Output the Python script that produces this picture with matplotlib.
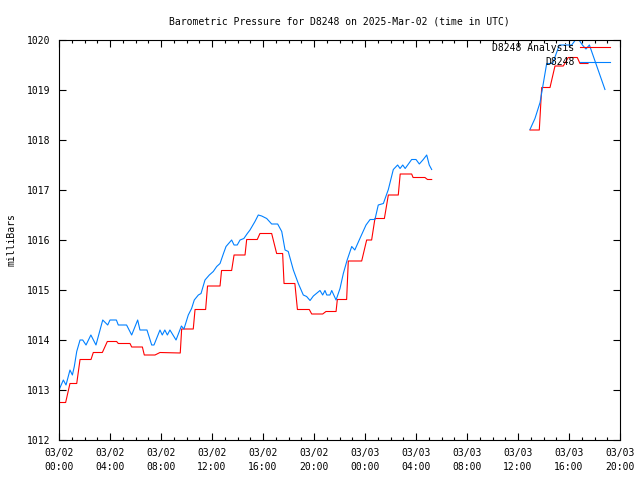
import numpy as np
import matplotlib
matplotlib.use("Agg")
import matplotlib.pyplot as plt
from matplotlib.ticker import MultipleLocator

NAN = np.nan

# hours since 2025-03-02 00:00 UTC
obs_hours = [
    0.0, 0.34, 0.55, 0.86, 1.05, 1.2, 1.39, 1.65, 1.86, 2.12, 2.5, 2.9,
    3.43, 3.82, 4.0, 4.5, 4.65, 5.3, 5.7, 6.17, 6.35, 6.9, 7.27, 7.45,
    7.92, 8.1, 8.3, 8.5, 8.7, 9.18, 9.6, 9.8, 10.14, 10.4, 10.61, 10.93,
    11.14, 11.45, 11.79, 12.1, 12.37, 12.63, 12.9, 13.1, 13.54, 13.73,
    13.98, 14.2, 14.5, 14.77, 14.98, 15.37, 15.63, 15.9, 16.29, 16.68,
    17.15, 17.47, 17.73, 17.98, 18.38, 18.77, 19.16, 19.42, 19.69, 19.95,
    20.47, 20.68, 20.86, 21.0, 21.25, 21.39, 21.73, 22.04, 22.3, 22.6,
    22.96, 23.2, 23.6, 24.08, 24.4, 24.78, 25.04, 25.44, 25.83, 26.22,
    26.56, 26.75, 26.96, 27.15, 27.66, 28.0, 28.26, 28.57, 28.84, 29.04,
    29.23, 33.0,
    36.94, 37.33, 37.73, 38.25, 38.72, 39.24, 40.21, 40.65, 41.05, 41.33,
    41.6, 42.82,
]
obs_pres = [
    1013.0, 1013.2, 1013.1, 1013.4, 1013.3, 1013.47, 1013.77, 1014.0,
    1014.0, 1013.9, 1014.1, 1013.9, 1014.4, 1014.3, 1014.4, 1014.4,
    1014.3, 1014.3, 1014.1, 1014.4, 1014.2, 1014.2, 1013.9, 1013.9,
    1014.2, 1014.1, 1014.2, 1014.1, 1014.2, 1014.0, 1014.28, 1014.22,
    1014.5, 1014.63, 1014.8, 1014.9, 1014.93, 1015.2, 1015.3, 1015.37,
    1015.47, 1015.53, 1015.73, 1015.87, 1016.0, 1015.9, 1015.9, 1016.0,
    1016.03, 1016.13, 1016.2, 1016.37, 1016.5, 1016.48, 1016.43, 1016.32,
    1016.32, 1016.17, 1015.8, 1015.77, 1015.4, 1015.13, 1014.9, 1014.87,
    1014.79, 1014.88, 1014.99, 1014.9, 1014.99, 1014.9, 1014.9, 1014.99,
    1014.8, 1015.03, 1015.33, 1015.6, 1015.87, 1015.8, 1016.03, 1016.3,
    1016.41, 1016.41, 1016.7, 1016.73, 1017.01, 1017.41, 1017.5, 1017.43,
    1017.5, 1017.43, 1017.61, 1017.61, 1017.52, 1017.61, 1017.7, 1017.5,
    1017.41, NAN,
    1018.21, 1018.43, 1018.75, 1019.53, 1019.53, 1019.9, 1019.9, 1020.05,
    1019.9, 1019.82, 1019.9, 1019.01,
]

ana_hours = [
    0.0, 0.52, 0.86, 1.39, 1.65, 2.51, 2.69, 3.4, 3.79, 4.52, 4.65, 5.57,
    5.7, 6.54, 6.69, 7.53, 7.92, 9.51, 9.62, 10.53, 10.67, 11.5, 11.65,
    12.63, 12.75, 13.54, 13.73, 14.59, 14.72, 15.55, 15.76, 16.68, 17.07,
    17.54, 17.65, 18.5, 18.7, 19.63, 19.82, 20.68, 20.94, 21.73, 21.83,
    22.56, 22.69, 23.74, 24.13, 24.52, 24.78, 25.52, 25.83, 26.61, 26.76,
    27.66, 27.77, 28.7, 28.9, 29.23, 33.0,
    36.94, 37.67, 37.86, 38.51, 38.9, 39.55, 39.94, 40.65, 40.86, 41.49,
]
ana_pres = [
    1012.75, 1012.75, 1013.13, 1013.13, 1013.61, 1013.61, 1013.75, 1013.75,
    1013.97, 1013.97, 1013.93, 1013.93, 1013.86, 1013.86, 1013.7, 1013.7,
    1013.75, 1013.74, 1014.22, 1014.22, 1014.61, 1014.61, 1015.08, 1015.08,
    1015.39, 1015.39, 1015.7, 1015.7, 1016.01, 1016.01, 1016.13, 1016.13,
    1015.73, 1015.73, 1015.13, 1015.13, 1014.61, 1014.61, 1014.52, 1014.52,
    1014.57, 1014.57, 1014.81, 1014.81, 1015.58, 1015.58, 1016.0, 1016.0,
    1016.43, 1016.43, 1016.9, 1016.9, 1017.32, 1017.32, 1017.25, 1017.25,
    1017.21, 1017.21, NAN,
    1018.2, 1018.2, 1019.05, 1019.05, 1019.48, 1019.48, 1019.65, 1019.65,
    1019.53, 1019.53,
]

tick_hours = [0, 4, 8, 12, 16, 20, 24, 28, 32, 36, 40, 44]
tick_labels = [
    "03/02\n00:00", "03/02\n04:00", "03/02\n08:00", "03/02\n12:00",
    "03/02\n16:00", "03/02\n20:00", "03/03\n00:00", "03/03\n04:00",
    "03/03\n08:00", "03/03\n12:00", "03/03\n16:00", "03/03\n20:00",
]

plt.rcParams["font.family"] = "DejaVu Sans Mono"
plt.rcParams["font.size"] = 7

fig = plt.figure(figsize=(6.4, 4.8), dpi=100)
ax = fig.add_axes([59 / 640, 40 / 480, 561 / 640, 400 / 480])

ax.plot(ana_hours, ana_pres, color="#ff0000", lw=0.8, label="D8248 Analysis")
ax.plot(obs_hours, obs_pres, color="#0080ff", lw=0.8, label="D8248")

ax.set_xlim(0, 44)
ax.set_ylim(1012, 1020)
ax.set_xticks(tick_hours)
ax.set_xticklabels(tick_labels, linespacing=1.5)
ax.xaxis.set_minor_locator(MultipleLocator(1))
ax.yaxis.set_major_locator(MultipleLocator(1))
ax.tick_params(which="both", direction="in", top=True, right=True,
               colors="black", labelsize=7, width=0.8)
ax.tick_params(which="major", length=5, pad=6)
ax.tick_params(which="minor", length=2.5)
for s in ax.spines.values():
    s.set_linewidth(0.8)

ax.set_title("Barometric Pressure for D8248 on 2025-Mar-02 (time in UTC)",
             fontsize=7, pad=11)
ax.set_ylabel("milliBars", fontsize=7, labelpad=8)

ax.legend(loc="upper right", bbox_to_anchor=(1.0, 1.018), frameon=False,
          markerfirst=False, handlelength=3.1, handletextpad=0.6,
          borderaxespad=0.6, labelspacing=0.5, fontsize=7)

fig.savefig("out.png", dpi=100)
